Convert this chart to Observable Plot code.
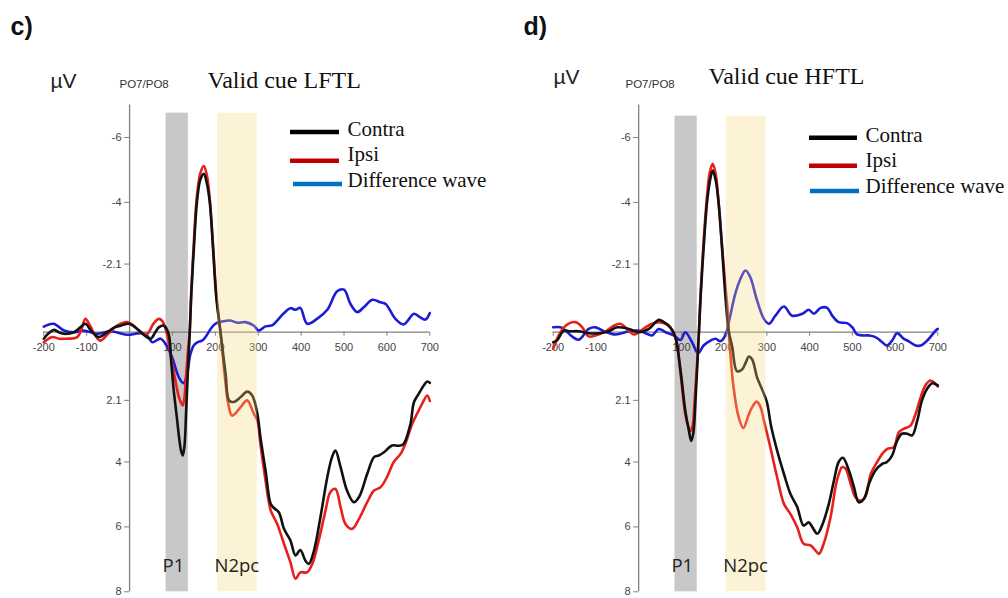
<!DOCTYPE html>
<html><head><meta charset="utf-8">
<script src="https://cdn.jsdelivr.net/npm/d3@7"></script>
<script src="https://cdn.jsdelivr.net/npm/@observablehq/plot@0.6"></script>
<style>
body{margin:0;background:#fff;}
#wrap{display:flex;width:1008px;height:598px;overflow:hidden;}
</style>
</head><body><div id="wrap"></div>
<script>
// ---------- data (time in ms, amplitude in µV; negative plotted upward) ----------
const xDomain = [-200, 700];
const yDomain = [-7, 8];
const xTickLabels = [-200, -100, 100, 200, 300, 400, 500, 600, 700];
const yTickValues = [-6, -4, -2.1, 2.1, 4, 6, 8];

const p1Band = [85, 137];
const n2pcBand = [205, 298];

const lftlContra = [[-200,0.2],[-190,0.05],[-177,-0.07],[-165,0],[-153,0.05],[-130,0],[-115,-0.15],[-103,-0.26],[-90,-0.05],[-72,0.15],[-52,0],[-35,-0.15],[-21,-0.2],[-2,-0.26],[18,-0.1],[35,0.1],[49,0.2],[60,0],[68,-0.15],[80,-0.2],[91,0.05],[97,0.9],[103,1.8],[110,2.6],[115,3.2],[120,3.65],[124,3.8],[128,3.5],[132,2.4],[136,1.2],[140,0.1],[144,-1.2],[150,-2.6],[157,-4.0],[165,-4.7],[173,-4.88],[180,-4.6],[187,-4.0],[195,-2.5],[202,-1.1],[212,0],[224,1.3],[232,2.1],[243,2.15],[259,2.0],[274,1.83],[286,1.95],[298,2.52],[305,3.23],[317,4.26],[329,5.29],[336,5.41],[348,5.55],[360,6.06],[375,6.42],[387,6.88],[398,6.71],[410,7.04],[418,7.14],[430,6.73],[445,5.7],[461,4.47],[472,3.85],[480,3.65],[492,4.16],[507,4.88],[523,5.24],[535,5.08],[554,4.37],[570,3.85],[581,3.8],[593,3.7],[612,3.49],[628,3.5],[639,3.44],[655,2.82],[663,2.16],[674,1.9],[686,1.64],[694,1.52],[700,1.56]];

const lftlIpsi = [[-200,0.31],[-180,0.15],[-165,0.2],[-150,0.2],[-122,0.15],[-112,-0.1],[-103,-0.41],[-92,-0.2],[-80,0.1],[-68,0.26],[-50,0.05],[-29,-0.2],[-6,-0.31],[10,-0.2],[25,0],[41,0.05],[55,-0.25],[68,-0.41],[76,-0.35],[84,-0.1],[91,0.3],[99,0.95],[107,1.5],[115,2.0],[121,2.2],[124,2.26],[128,2.0],[132,1.28],[136,0.6],[140,0],[144,-1.3],[150,-2.8],[157,-4.2],[165,-4.9],[173,-5.12],[180,-4.85],[187,-4.1],[195,-2.6],[202,-1.2],[212,0],[224,1.6],[230,2.2],[239,2.57],[259,2.31],[274,2.1],[290,2.52],[298,2.72],[305,3.44],[317,4.57],[329,5.49],[344,5.9],[360,6.52],[375,7.09],[387,7.6],[398,7.4],[414,7.4],[426,7.14],[441,6.42],[457,5.49],[468,4.93],[480,4.83],[492,5.39],[503,5.9],[519,6.06],[535,5.75],[554,5.24],[570,4.88],[585,4.78],[600,4.47],[616,4.0],[632,3.75],[643,3.44],[659,2.82],[670,2.52],[682,2.21],[694,1.95],[700,2.12]];

const lftlDiff = [[-200,-0.17],[-177,-0.26],[-153,-0.05],[-130,0],[-107,-0.05],[-76,0.05],[-44,-0.03],[-6,0.08],[25,0.03],[41,0.1],[53,0.31],[72,0.2],[84,0.36],[99,0.77],[115,1.39],[126,1.57],[134,1.28],[142,0.67],[150,0.4],[158,0.31],[169,0.26],[177,0.15],[189,-0.1],[200,-0.26],[216,-0.33],[235,-0.36],[251,-0.29],[270,-0.31],[290,-0.2],[301,-0.05],[317,-0.18],[332,-0.21],[360,-0.59],[375,-0.74],[387,-0.69],[398,-0.75],[414,-0.26],[437,-0.41],[461,-0.69],[484,-1.26],[500,-1.31],[515,-0.87],[531,-0.62],[546,-0.77],[566,-1.0],[585,-0.92],[597,-0.87],[620,-0.41],[639,-0.24],[663,-0.57],[674,-0.49],[690,-0.39],[700,-0.59]];

const hftlContra = [[-200,0.31],[-191,0.25],[-175,-0.05],[-163,-0.03],[-140,-0.03],[-117,0.03],[-93,0.03],[-70,-0.03],[-50,-0.15],[-23,-0.1],[0,0],[24,-0.1],[47,-0.38],[59,-0.31],[74,-0.15],[86,0.15],[98,1.18],[109,2.41],[117,3.0],[123,3.35],[128,3.1],[133,2.1],[141,0],[145,-1.1],[152,-2.6],[160,-4.0],[166,-4.6],[173,-4.98],[180,-4.7],[187,-4.0],[195,-2.6],[203,-1.1],[210,-0.1],[219,0.46],[230,1.2],[242,1.15],[250,0.95],[258,0.75],[266,0.85],[277,1.39],[290,1.8],[300,2.15],[310,2.9],[324,3.65],[340,4.37],[355,4.98],[371,5.39],[386,5.96],[398,5.86],[406,6.0],[418,6.21],[429,5.96],[445,5.29],[457,4.57],[468,4.0],[478,3.87],[492,4.26],[504,4.78],[515,5.24],[527,5.14],[539,4.67],[554,4.26],[570,4.06],[581,4.0],[593,3.8],[605,3.34],[616,3.13],[628,3.13],[640,3.18],[652,2.72],[663,2.1],[675,1.74],[687,1.57],[700,1.64]];

const hftlIpsi = [[-200,0.51],[-187,0.1],[-171,-0.2],[-148,-0.31],[-132,-0.15],[-117,0.13],[-101,0.1],[-81,0],[-58,-0.2],[-43,-0.26],[-27,-0.1],[-11,0.07],[0,0],[16,-0.15],[31,-0.26],[47,-0.31],[63,-0.26],[74,-0.15],[86,0.15],[98,1.28],[109,2.52],[116,2.9],[121,3.05],[126,2.9],[131,2.1],[141,0],[145,-1.2],[152,-2.8],[160,-4.2],[166,-4.9],[173,-5.19],[180,-4.9],[187,-4.0],[195,-2.7],[203,-1.4],[208,-0.7],[212,0.2],[222,1.69],[234,2.62],[245,2.95],[258,2.52],[266,2.3],[276,2.14],[285,2.3],[293,2.72],[300,3.1],[308,3.54],[324,4.47],[340,5.29],[355,5.6],[371,6.01],[386,6.52],[402,6.57],[414,6.73],[422,6.83],[433,6.52],[449,5.7],[464,4.57],[476,4.16],[484,4.2],[496,4.67],[507,5.08],[519,5.19],[531,5.05],[543,4.37],[558,4.0],[570,3.75],[581,3.6],[597,3.54],[609,3.08],[620,2.98],[636,2.88],[648,2.52],[660,2.0],[671,1.64],[683,1.49],[700,1.67]];

const hftlDiff = [[-200,-0.15],[-183,-0.15],[-171,-0.05],[-156,0.13],[-140,0.23],[-117,-0.1],[-101,-0.15],[-81,-0.03],[-54,0.07],[-23,-0.03],[0,-0.05],[16,0.03],[31,0.1],[47,-0.1],[63,0],[82,0.1],[98,0.24],[109,0],[125,0.31],[139,0.65],[152,0.41],[168,0.26],[180,0.2],[191,0.28],[203,0.1],[211,-0.31],[226,-1.18],[238,-1.64],[250,-1.9],[261,-1.7],[277,-0.98],[293,-0.41],[305,-0.26],[320,-0.51],[340,-0.79],[359,-0.51],[383,-0.57],[398,-0.69],[410,-0.57],[426,-0.75],[441,-0.75],[453,-0.51],[468,-0.31],[488,-0.28],[500,-0.15],[511,0.07],[527,0.1],[539,0.1],[554,0.15],[570,0.31],[581,0.41],[593,0.26],[605,0.03],[620,0.2],[632,0.28],[648,0.41],[660,0.41],[675,0.26],[695,-0.05],[700,-0.1]];

const seriesNames = ["Contra", "Ipsi", "Difference wave"];
const lineColors = ["#111111", "#e8201c", "#1c1cd6"];
const legendColors = ["#000000", "#c00000", "#0070c0"];

// ---------- drawing ----------
const W = 504, H = 598, MT = 104.55, MB = 6.7;
const sans = "'Liberation Sans', Arial, sans-serif";
const serif = "'Liberation Serif', 'Times New Roman', serif";

function panel(cfg) {
  const ML = cfg.ml, MR = cfg.mr, off = cfg.offset;
  const lab = (text, px, py, style) => Plot.text([text], {
    text: d => d, frameAnchor: "top-left", textAnchor: "start", lineAnchor: "bottom",
    dx: px - off - ML, dy: py - MT, ...style
  });
  const legendLines = () => {
    const g = d3.create("svg:g");
    cfg.legendLines.forEach((l, i) => {
      g.append("line").attr("x1", l[0] - off).attr("x2", l[1] - off)
        .attr("y1", l[2]).attr("y2", l[2])
        .attr("stroke", legendColors[i]).attr("stroke-width", 4.5);
    });
    return g.node();
  };
  const bands = [{x1: p1Band[0], x2: p1Band[1]}];
  const yellow = [{x1: n2pcBand[0], x2: n2pcBand[1]}];
  const marks = [
    Plot.rect(bands, {x1: "x1", x2: "x2", y1: cfg.bandTop, y2: yDomain[1], fill: "#c8c8c8"}),
    Plot.rect(yellow, {x1: "x1", x2: "x2", y1: cfg.bandTop, y2: yDomain[1], fill: "#fdf6de", fillOpacity: 0.0}),
    Plot.ruleY([0], {x1: xDomain[0], x2: xDomain[1], stroke: "#808080", strokeWidth: 1.3}),
    Plot.ruleX([0], {y1: yDomain[0], y2: yDomain[1], stroke: "#808080", strokeWidth: 1.3}),
    Plot.ruleX(xTickLabels, {x: d => d, y1: 0, y2: 0, insetBottom: -4, stroke: "#808080"}),
    Plot.ruleY(yTickValues, {y: d => d, x1: 0, x2: 0, insetLeft: -5, stroke: "#808080"}),
    Plot.text(xTickLabels, {x: d => d, y: 0, dy: 15.5, text: d => String(d), fontSize: 11, fill: "#444", fontFamily: sans}),
    Plot.text(yTickValues, {x: 0, y: d => d, dx: -8, textAnchor: "end", text: d => String(d), fontSize: 11, fill: "#444", fontFamily: sans}),
    Plot.line(cfg.diff, {x: d => d[0], y: d => d[1], stroke: lineColors[2], strokeWidth: 2.6, curve: "catmull-rom"}),
    Plot.line(cfg.ipsi, {x: d => d[0], y: d => d[1], stroke: lineColors[1], strokeWidth: 2.6, curve: "catmull-rom"}),
    Plot.line(cfg.contra, {x: d => d[0], y: d => d[1], stroke: lineColors[0], strokeWidth: 2.6, curve: "catmull-rom"}),
    Plot.rect(yellow, {x1: "x1", x2: "x2", y1: cfg.bandTop, y2: yDomain[1], fill: "#f5d67a", fillOpacity: 0.3}),
    Plot.text(["P1"], {x: p1Band[0], frameAnchor: "bottom", textAnchor: "start", lineAnchor: "bottom", dx: -3.5, dy: -(H - 571.7 - MB), text: d => d, fontSize: 18.5, fill: "#222", fontFamily: "'Open Sans', sans-serif"}),
    Plot.text(["N2pc"], {x: n2pcBand[0], frameAnchor: "bottom", textAnchor: "start", lineAnchor: "bottom", dx: -3, dy: -(H - 571.7 - MB), text: d => d, fontSize: 18.5, fill: "#222", fontFamily: "'Open Sans', sans-serif"}),
    lab(cfg.letter, cfg.letterPos[0], cfg.letterPos[1], {fontSize: 25, fontWeight: "bold", fill: "#111", fontFamily: sans}),
    lab("µV", cfg.muPos[0], cfg.muPos[1], {fontSize: 21, fill: "#222", fontFamily: sans}),
    lab("PO7/PO8", cfg.poPos[0], cfg.poPos[1], {fontSize: 11.5, fill: "#333", fontFamily: sans}),
    lab(cfg.title, cfg.titlePos[0], cfg.titlePos[1], {fontSize: 24, fill: "#111", fontFamily: serif}),
    legendLines,
    ...seriesNames.map((s, i) => lab(s, cfg.legendX, cfg.legendY[i], {fontSize: 21, fill: "#111", fontFamily: serif}))
  ];
  return Plot.plot({
    width: W, height: H,
    marginLeft: ML, marginRight: MR, marginTop: MT, marginBottom: MB,
    x: {domain: xDomain, axis: null},
    y: {domain: yDomain, reverse: true, axis: null},
    style: {background: "white", fontFamily: sans, overflow: "visible"},
    marks
  });
}

const wrap = document.getElementById("wrap");
wrap.append(panel({
  ml: 43.3, mr: 74.7, offset: 0, bandTop: -6.75,
  contra: lftlContra, ipsi: lftlIpsi, diff: lftlDiff,
  letter: "c)", letterPos: [10, 34], muPos: [50, 87], poPos: [119, 87],
  title: "Valid cue LFTL", titlePos: [207, 87],
  legendLines: [[290, 339, 132], [290, 339, 160.7], [293, 342, 184]],
  legendX: 347, legendY: [135, 160, 186]
}));
wrap.append(panel({
  ml: 48.7, mr: 70.7, offset: 504, bandTop: -6.66,
  contra: hftlContra, ipsi: hftlIpsi, diff: hftlDiff,
  letter: "d)", letterPos: [523, 34], muPos: [553, 83], poPos: [625, 87],
  title: "Valid cue HFTL", titlePos: [708, 83],
  legendLines: [[809, 857, 137.7], [809, 857, 165.7], [810, 859, 191]],
  legendX: 865, legendY: [141, 166, 192]
}));
</script>
</body></html>
